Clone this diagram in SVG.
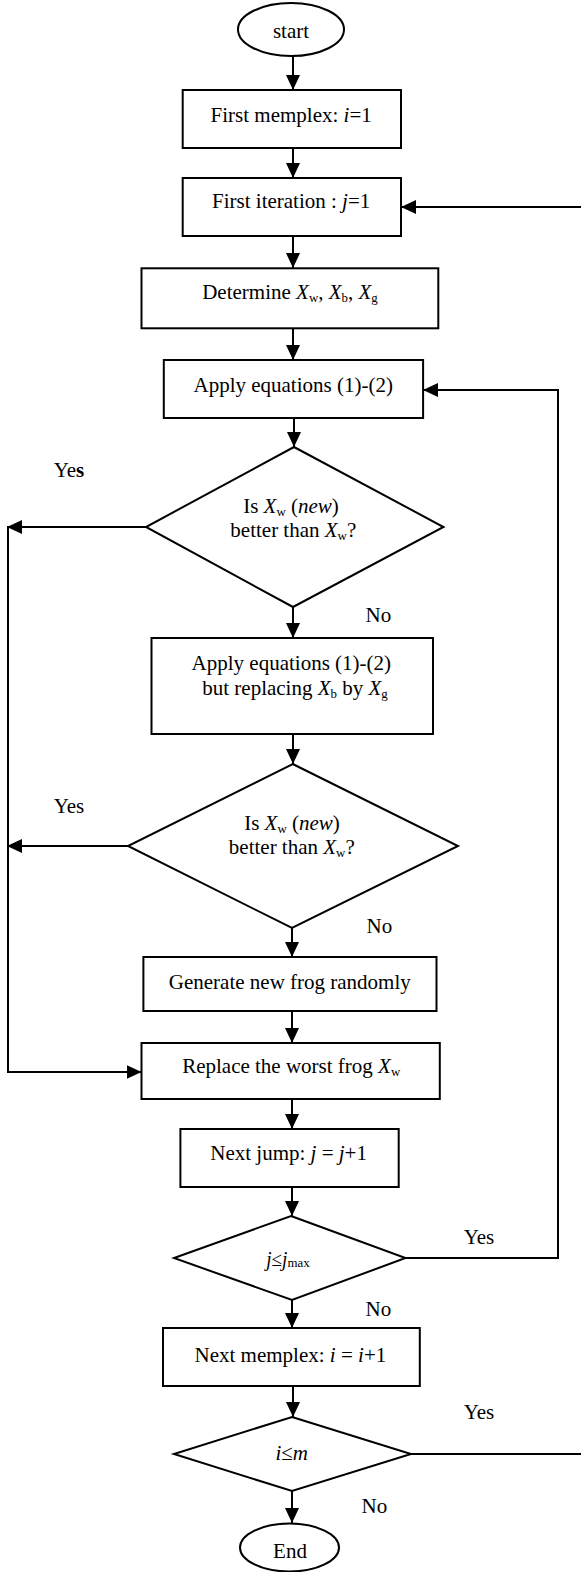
<svg xmlns="http://www.w3.org/2000/svg" width="581" height="1572" viewBox="0 0 581 1572">
<style>
.s{fill:#fff;stroke:#000;stroke-width:2}
.c{fill:none;stroke:#000;stroke-width:2}
text{font-family:"Liberation Serif","Times New Roman",serif;font-size:22px;fill:#000;transform-box:fill-box;transform-origin:center;transform:scaleX(0.955)}
.m{text-anchor:middle}
.i{font-style:italic}
.sb{font-size:13.5px}
</style>
<defs>
<marker id="ah" viewBox="0 0 15 14" refX="15" refY="7" markerWidth="15" markerHeight="14" markerUnits="userSpaceOnUse" orient="auto">
<path d="M0,0 L15,7 L0,14 Z" fill="#000"/>
</marker>
</defs>
<g id="connectors">
<line class="c" x1="293" y1="56" x2="293" y2="90" marker-end="url(#ah)"/>
<line class="c" x1="293" y1="148" x2="293" y2="178" marker-end="url(#ah)"/>
<line class="c" x1="293" y1="236" x2="293" y2="268" marker-end="url(#ah)"/>
<line class="c" x1="293" y1="328" x2="293" y2="360" marker-end="url(#ah)"/>
<line class="c" x1="294" y1="418" x2="294" y2="447" marker-end="url(#ah)"/>
<line class="c" x1="293" y1="607" x2="293" y2="638" marker-end="url(#ah)"/>
<line class="c" x1="293" y1="734" x2="293" y2="764" marker-end="url(#ah)"/>
<line class="c" x1="292" y1="928" x2="292" y2="957" marker-end="url(#ah)"/>
<line class="c" x1="292" y1="1011" x2="292" y2="1043" marker-end="url(#ah)"/>
<line class="c" x1="292" y1="1099" x2="292" y2="1129" marker-end="url(#ah)"/>
<line class="c" x1="292" y1="1187" x2="292" y2="1216" marker-end="url(#ah)"/>
<line class="c" x1="292" y1="1300" x2="292" y2="1328" marker-end="url(#ah)"/>
<line class="c" x1="293" y1="1386" x2="293" y2="1417" marker-end="url(#ah)"/>
<line class="c" x1="292" y1="1491" x2="292" y2="1523" marker-end="url(#ah)"/>
<line class="c" x1="146" y1="527" x2="7" y2="527" marker-end="url(#ah)"/>
<polyline class="c" points="8,527 8,1072 141.5,1072" marker-end="url(#ah)"/>
<line class="c" x1="128" y1="846" x2="7" y2="846" marker-end="url(#ah)"/>
<polyline class="c" points="405.5,1258 558,1258 558,390 423,390" marker-end="url(#ah)"/>
<line class="c" x1="411" y1="1454" x2="581" y2="1454"/>
<line class="c" x1="581" y1="207" x2="401" y2="207" marker-end="url(#ah)"/>
</g>
<g id="start">
<ellipse class="s" cx="291" cy="29.5" rx="53" ry="26.5"/>
<text class="m" x="291" y="38">start</text>
</g>
<g id="box1">
<rect class="s" x="182.7" y="90" width="218.3" height="58"/>
<text class="m" x="291.2" y="121.7">First memplex: <tspan class="i">i</tspan>=1</text>
</g>
<g id="box2">
<rect class="s" x="182.7" y="178" width="218.3" height="58"/>
<text class="m" x="291.2" y="208.3">First iteration : <tspan class="i">j</tspan>=1</text>
</g>
<g id="box3">
<rect class="s" x="141.5" y="268.3" width="296.8" height="60"/>
<text class="m" x="290" y="299">Determine  <tspan class="i">X</tspan><tspan class="sb" dy="3">w</tspan><tspan dy="-3">,  </tspan><tspan class="i">X</tspan><tspan class="sb" dy="3">b</tspan><tspan dy="-3">, </tspan><tspan class="i">X</tspan><tspan class="sb" dy="3">g</tspan></text>
</g>
<g id="box4">
<rect class="s" x="163.8" y="360" width="259.3" height="58"/>
<text class="m" x="293.2" y="392">Apply equations (1)-(2)</text>
</g>
<g id="dec1">
<polygon class="s" points="294,447 443.5,527 293,607 146,527"/>
<text class="m" x="291" y="513">Is <tspan class="i">X</tspan><tspan class="sb" dy="3">w</tspan><tspan dy="-3"> (</tspan><tspan class="i">new</tspan>)</text>
<text class="m" x="293.3" y="537">better than <tspan class="i">X</tspan><tspan class="sb" dy="3">w</tspan><tspan dy="-3">?</tspan></text>
</g>
<g id="box5">
<rect class="s" x="151.5" y="638" width="281.5" height="96"/>
<text class="m" x="291.3" y="670">Apply equations (1)-(2)</text>
<text class="m" x="295" y="695">but replacing <tspan class="i">X</tspan><tspan class="sb" dy="3">b</tspan><tspan dy="-3"> by </tspan><tspan class="i">X</tspan><tspan class="sb" dy="3">g</tspan></text>
</g>
<g id="dec2">
<polygon class="s" points="292.7,764 458,846 292,928 128,846"/>
<text class="m" x="292" y="830">Is  <tspan class="i">X</tspan><tspan class="sb" dy="3">w</tspan><tspan dy="-3"> (</tspan><tspan class="i">new</tspan>)</text>
<text class="m" x="291.8" y="854">better than <tspan class="i">X</tspan><tspan class="sb" dy="3">w</tspan><tspan dy="-3">?</tspan></text>
</g>
<g id="box6">
<rect class="s" x="143.4" y="957" width="293.1" height="54"/>
<text class="m" x="289.8" y="989">Generate new frog randomly</text>
</g>
<g id="box7">
<rect class="s" x="141.5" y="1043" width="298.3" height="56"/>
<text class="m" x="291.2" y="1073">Replace the worst frog  <tspan class="i">X</tspan><tspan class="sb" dy="3">w</tspan></text>
</g>
<g id="box8">
<rect class="s" x="180.4" y="1129" width="218.3" height="58"/>
<text class="m" x="288.6" y="1160">Next jump: <tspan class="i">j</tspan> = <tspan class="i">j</tspan>+1</text>
</g>
<g id="dec3">
<polygon class="s" points="291,1216 405.5,1258 292,1300 174,1258"/>
<text class="m" x="288" y="1266" style="font-size:20px"><tspan class="i">j</tspan>≤<tspan class="i">j</tspan><tspan class="sb" dy="1">max</tspan></text>
</g>
<g id="box9">
<rect class="s" x="163" y="1328" width="256.8" height="58"/>
<text class="m" x="290.4" y="1362">Next memplex: <tspan class="i">i</tspan> = <tspan class="i">i</tspan>+1</text>
</g>
<g id="dec4">
<polygon class="s" points="292,1417 411,1454 292,1491 174,1454"/>
<text class="m" x="291.7" y="1460"><tspan class="i">i</tspan>≤<tspan class="i">m</tspan></text>
</g>
<g id="end">
<ellipse class="s" cx="289.5" cy="1547.5" rx="49.5" ry="24"/>
<text class="m" x="290" y="1558">End</text>
</g>
<g id="labels">
<text x="53" y="477">Ye<tspan font-weight="bold">s</tspan></text>
<text x="365" y="622">No</text>
<text x="53" y="813">Yes</text>
<text x="366" y="933">No</text>
<text x="463" y="1244">Yes</text>
<text x="365" y="1316">No</text>
<text x="463" y="1419">Yes</text>
<text x="361" y="1513">No</text>
</g>
</svg>
